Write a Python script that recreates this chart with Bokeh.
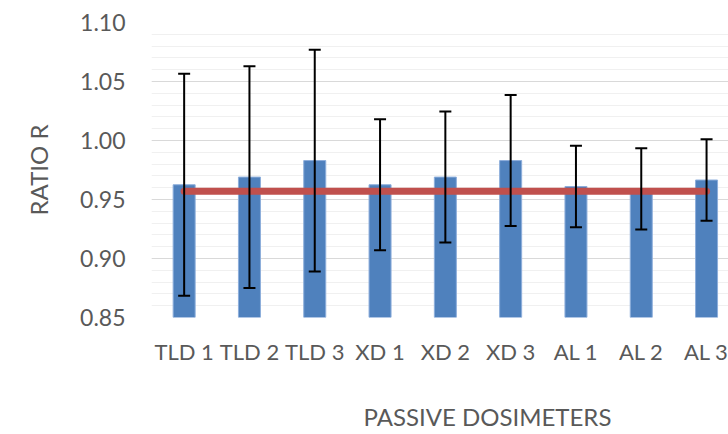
from bokeh.plotting import figure
from bokeh.models import (ColumnDataSource, FixedTicker, Whisker, TeeHead, Title)
from bokeh.embed import file_html
from bokeh.resources import INLINE

# Measured ratio per passive dosimeter with its uncertainty
categories = ["TLD 1", "TLD 2", "TLD 3", "XD 1", "XD 2", "XD 3", "AL 1", "AL 2", "AL 3"]
ratio = [0.9625, 0.969, 0.983, 0.9625, 0.969, 0.983, 0.961, 0.959, 0.9665]
uncertainty = [0.094, 0.094, 0.094, 0.0555, 0.0555, 0.0555, 0.0345, 0.0345, 0.0345]
reference_ratio = 0.957

y_ticks = [0.85, 0.90, 0.95, 1.00, 1.05, 1.10]
y_min, y_max = y_ticks[0], y_ticks[-1]

FONT = "Lato"
TEXT_COLOR = "#595959"

xs = list(range(len(categories)))
src = ColumnDataSource(dict(
    x=xs,
    top=ratio,
    upper=[r + u for r, u in zip(ratio, uncertainty)],
    lower=[r - u for r, u in zip(ratio, uncertainty)],
))

p = figure(
    width=728, height=434,
    frame_width=577, frame_height=295,
    x_range=(-0.5, 8.336), y_range=(y_min, y_max),
    output_backend="svg", toolbar_location=None,
    min_border_left=151, min_border_right=0,
    min_border_top=22, min_border_bottom=0,
)
p.outline_line_color = None
p.background_fill_color = "white"
p.border_fill_color = "white"

# bars
p.vbar(x="x", top="top", bottom=y_min, width=0.337, source=src,
       fill_color="#4F81BD", line_color="#8DAEDB", line_width=1)

# reference level
p.line(x=[xs[0], xs[-1]], y=[reference_ratio, reference_ratio],
       line_color="#C0504D", line_width=7, line_cap="round")

# error bars, drawn on top of bars and reference line
head_u = TeeHead(size=12, line_width=2, line_color="black")
head_l = TeeHead(size=12, line_width=2, line_color="black")
p.add_layout(Whisker(source=src, base="x", upper="upper", lower="lower",
                     line_color="black", line_width=2, level="overlay",
                     upper_head=head_u, lower_head=head_l))

# grid
minor = [round(y_min + i * 0.01, 2) for i in range(26)]
p.yaxis.ticker = FixedTicker(ticks=y_ticks, minor_ticks=minor)
p.ygrid.ticker = p.yaxis.ticker
p.ygrid.grid_line_color = "#D9D9D9"
p.ygrid.grid_line_width = 1
p.ygrid.minor_grid_line_color = "#F0F0F0"
p.ygrid.minor_grid_line_width = 1
p.xgrid.grid_line_color = None

# y axis
p.yaxis.axis_line_color = None
p.yaxis.major_tick_line_color = None
p.yaxis.minor_tick_line_color = None
p.yaxis.major_label_standoff = 20
p.yaxis.major_label_overrides = {t: f"{t:.2f}" for t in y_ticks}
p.yaxis.major_label_text_font = FONT
p.yaxis.major_label_text_font_size = "23px"
p.yaxis.major_label_text_color = TEXT_COLOR
p.yaxis.axis_label = "RATIO R"
p.yaxis.axis_label_text_font = FONT
p.yaxis.axis_label_text_font_size = "24px"
p.yaxis.axis_label_text_font_style = "normal"
p.yaxis.axis_label_text_color = TEXT_COLOR
p.yaxis.axis_label_standoff = 24

# x axis
p.xaxis.ticker = FixedTicker(ticks=xs)
p.xaxis.major_label_overrides = {i: c for i, c in zip(xs, categories)}
p.xaxis.axis_line_color = None
p.xaxis.major_tick_line_color = None
p.xaxis.minor_tick_line_color = None
p.xaxis.major_label_standoff = 14
p.xaxis.major_label_text_font = FONT
p.xaxis.major_label_text_font_size = "22px"
p.xaxis.major_label_text_color = TEXT_COLOR

p.add_layout(Title(text="PASSIVE DOSIMETERS", align="left", offset=212,
                   text_font=FONT, text_font_size="24px", text_font_style="normal",
                   text_color=TEXT_COLOR, standoff=64), "below")

open("out.html", "w").write(file_html(p, INLINE))
